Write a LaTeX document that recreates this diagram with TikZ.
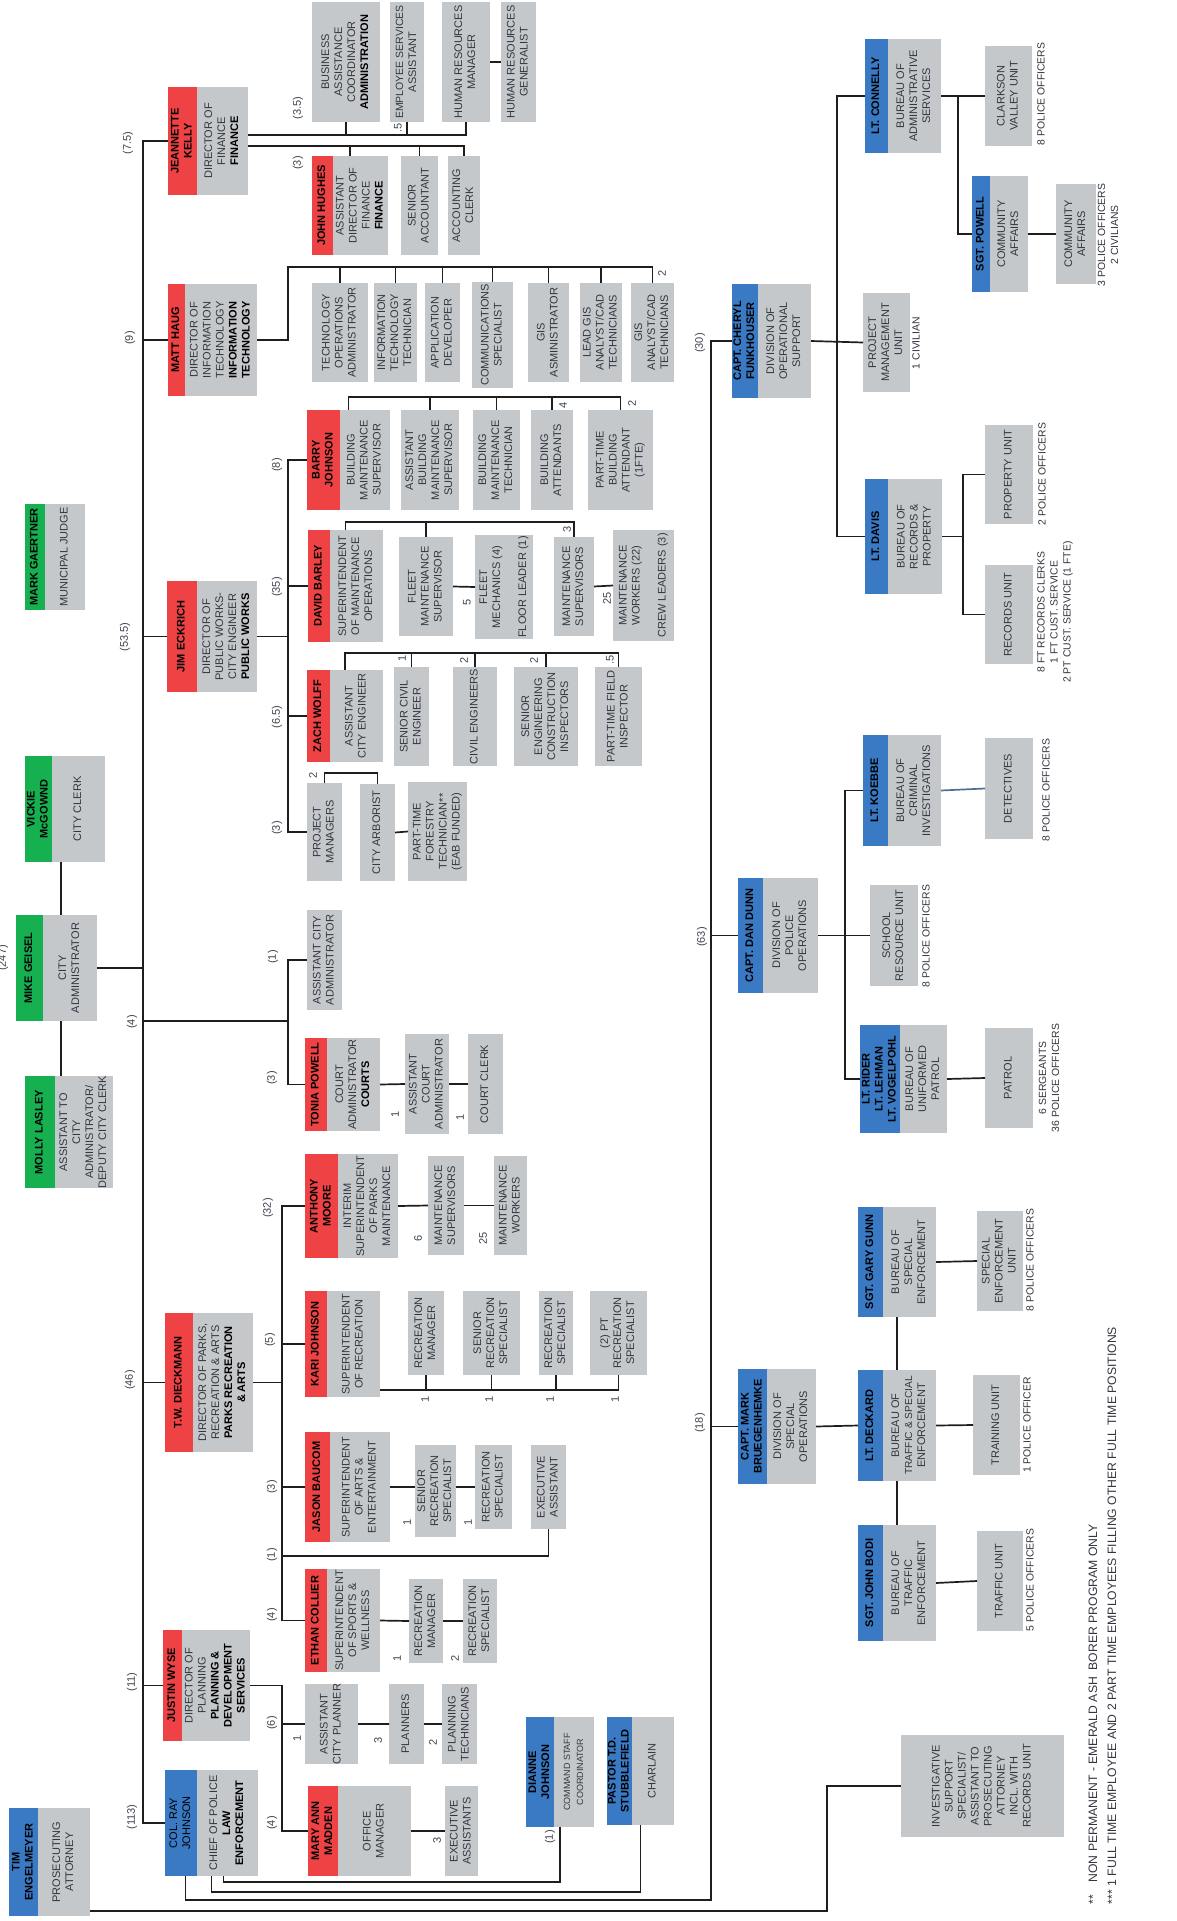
\documentclass[tikz,border=0pt]{standalone}
\usepackage{fontspec}
\setmainfont{Liberation Sans}
\usepackage{graphicx}
\definecolor{cred}{RGB}{238,66,68}
\definecolor{cgreen}{RGB}{22,176,80}
\definecolor{cblue}{RGB}{58,122,196}
\definecolor{cgrey}{RGB}{197,200,203}
\definecolor{ctext}{RGB}{50,54,62}
\definecolor{cline}{RGB}{30,30,30}
\definecolor{cnum}{RGB}{64,68,78}
\definecolor{csteel}{RGB}{80,110,150}
\newcommand\rt[1]{\rotatebox{90}{\begin{tabular}{@{}c@{}}#1\end{tabular}}}
\newcommand\vc[1]{$\vcenter{\hbox{#1}}$}
\newcommand\dept[1]{{\bfseries\color{black}#1}}
\tikzset{
 base/.style={inner sep=0pt, outer sep=0pt, font=\fontsize{11}{13}\selectfont},
 gb/.style={base, fill=cgrey, text=ctext, anchor=north west},
 pb/.style 2 args={gb, path picture={\fill[#1] (path picture bounding box.north west) rectangle ([xshift=#2]path picture bounding box.south west);}},
 ln/.style={draw=cline, line width=1.7pt},
 cnt/.style={base, text=cnum},
 note/.style={base, text=ctext, font=\fontsize{10.4}{13}\selectfont},
 foot/.style={base, text=ctext, font=\fontsize{12.2}{14}\selectfont, anchor=south},
}
\newcommand\person[9]{\node[pb={#7}{#4-#2}, minimum width={#5-#2}, minimum height={#6-#3}] (#1) at (#2,#3) {\makebox[\dimexpr#4pt-#2pt\relax]{\vc{\color{black}\bfseries\rt{#8}}}\makebox[\dimexpr#5pt-#4pt\relax]{\vc{\rt{#9}}}};}
\newcommand\gbox[6]{\node[gb, minimum width={#4-#2}, minimum height={#5-#3}] (#1) at (#2,#3) {\rt{#6}};}
\newcommand\lab[4]{\node[cnt] (#1) at (#2,#3) {\rotatebox{90}{#4}};}
\begin{document}
\begin{tikzpicture}[x=1pt,y=-1pt]
\useasboundingbox (0,0) rectangle (1176,1921);
\fill[white] (0,0) rectangle (1176,1921);
\coordinate (T0) at (143,0);
\coordinate (T1) at (288,0);
\coordinate (T2) at (282,0);
\coordinate (TP) at (711,0);
\coordinate (T3) at (837,0);
\coordinate (T4) at (958,0);
\coordinate (T5) at (963,0);
\coordinate (T6) at (845,0);
\coordinate (itbus) at (0,267);
\coordinate (bbus) at (0,397);
\coordinate (dbus) at (0,522);
\coordinate (wbus) at (0,653);
\coordinate (pbus) at (0,773);
\coordinate (b4) at (143,1021);
\coordinate (e1) at (282,1556);
\coordinate (pbot) at (711,1900);
\coordinate (pb2) at (0,1892);
\coordinate (pb3) at (0,1882);
\coordinate (tb) at (827,1911);
% persons
\person{kelly}{168}{87}{197}{248}{195}{cred}{JEANNETTE\\KELLY}{DIRECTOR OF\\FINANCE\\\dept{FINANCE}}
\person{hughes}{312}{156}{333}{388}{255}{cred}{JOHN HUGHES}{ASSISTANT\\DIRECTOR OF\\FINANCE\\\dept{FINANCE}}
\person{haug}{168}{284}{185}{257}{396}{cred}{MATT HAUG}{DIRECTOR OF\\INFORMATION\\TECHNOLOGY\\\dept{INFORMATION}\\\dept{TECHNOLOGY}}
\person{barry}{307}{410}{340}{390}{510}{cred}{BARRY\\JOHNSON}{BUILDING\\MAINTENANCE\\SUPERVISOR}
\person{eckrich}{167}{581}{197}{257}{692}{cred}{JIM ECKRICH}{DIRECTOR OF\\PUBLIC WORKS-\\CITY ENGINEER\\\dept{PUBLIC WORKS}}
\person{barley}{308}{530}{330}{383}{642}{cred}{DAVID BARLEY}{SUPERINTENDENT\\OF MAINTENANCE\\OPERATIONS}
\person{wolff}{307}{670}{330}{383}{762}{cred}{ZACH WOLFF}{ASSISTANT\\CITY ENGINEER}
\person{gaertner}{25}{504}{45}{85}{610}{cgreen}{MARK GAERTNER}{MUNICIPAL JUDGE}
\person{mcgownd}{25}{756}{52}{105}{862}{cgreen}{VICKIE\\McGOWND}{CITY CLERK}
\person{geisel}{16}{915}{43}{97}{1021}{cgreen}{MIKE GEISEL}{CITY\\ADMINISTRATOR}
\person{lasley}{25}{1076}{55}{113}{1188}{cgreen}{MOLLY LASLEY}{ASSISTANT TO\\CITY\\ADMINISTRATOR/\\DEPUTY CITY CLERK}
\person{powell}{305}{1038}{327}{380}{1131}{cred}{TONIA POWELL}{COURT\\ADMINISTRATOR\\\dept{COURTS}}
\person{moore}{305}{1154}{338}{398}{1258}{cred}{ANTHONY\\MOORE}{INTERIM\\SUPERINTENDENT\\OF PARKS\\MAINTENANCE}
\person{dieckmann}{165}{1313}{193}{253}{1452}{cred}{T.W. DIECKMANN}{DIRECTOR OF PARKS,\\RECREATION \& ARTS\\\dept{PARKS RECREATION}\\\dept{\& ARTS}}
\person{kari}{305}{1291}{327}{380}{1397}{cred}{KARI JOHNSON}{SUPERINTENDENT\\OF RECREATION}
\person{baucom}{305}{1432}{330}{390}{1542}{cred}{JASON BAUCOM}{SUPERINTENDENT\\OF ARTS \&\\ENTERTAINMENT}
\person{collier}{305}{1569}{327}{380}{1672}{cred}{ETHAN COLLIER}{SUPERINTENDENT\\OF SPORTS \&\\WELLNESS}
\person{wyse}{163}{1630}{182}{250}{1741}{cred}{JUSTIN WYSE}{DIRECTOR OF\\PLANNING\\\dept{PLANNING \&}\\\dept{DEVELOPMENT}\\\dept{SERVICES}}
\person{madden}{308}{1786}{338}{411}{1876}{cred}{MARY ANN\\MADDEN}{OFFICE\\MANAGER}
\person{ray}{165}{1770}{197}{258}{1876}{cblue}{{\mdseries COL. RAY}\\{\mdseries JOHNSON}}{CHIEF OF POLICE\\\dept{LAW}\\\dept{ENFORCEMENT}}
\person{engelmeyer}{9}{1808}{38}{90}{1916}{cblue}{TIM\\ENGELMEYER}{PROSECUTING\\ATTORNEY}
\person{dianne}{526}{1717}{554}{594}{1827}{cblue}{DIANNE\\JOHNSON}{\small COMMAND STAFF\\\small COORDINATOR}
\person{pastor}{607}{1717}{632}{674}{1825}{cblue}{PASTOR T.D.\\STUBBLEFIELD}{CHARLAIN}
\person{funk}{732}{284}{758}{811}{398}{cblue}{CAPT. CHERYL\\FUNKHOUSER}{DIVISION OF\\OPERATIONAL\\SUPPORT}
\person{connelly}{865}{39}{888}{941}{153}{cblue}{LT. CONNELLY}{BUREAU OF\\ADMINISTRATIVE\\SERVICES}
\person{spowell}{972}{176}{990}{1028}{292}{cblue}{SGT. POWELL}{COMMUNITY\\AFFAIRS}
\person{davis}{865}{479}{888}{942}{594}{cblue}{LT. DAVIS}{BUREAU OF\\RECORDS \&\\PROPERTY}
\person{dunn}{738}{878}{763}{818}{993}{cblue}{CAPT. DAN DUNN}{DIVISION OF\\POLICE\\OPERATIONS}
\person{koebbe}{863}{735}{888}{941}{846}{cblue}{LT. KOEBBE}{BUREAU OF\\CRIMINAL\\INVESTIGATIONS}
\person{rider}{860}{1025}{900}{947}{1133}{cblue}{LT. RIDER\\LT. LEHMAN\\LT. VOGELPOHL}{BUREAU OF\\UNIFORMED\\PATROL}
\person{brueg}{738}{1369}{767}{816}{1484}{cblue}{CAPT. MARK\\BRUEGENHEMKE}{DIVISION OF\\SPECIAL\\OPERATIONS}
\person{gunn}{858}{1207}{883}{936}{1317}{cblue}{SGT. GARY GUNN}{BUREAU OF\\SPECIAL\\ENFORCEMENT}
\person{deckard}{858}{1370}{883}{936}{1481}{cblue}{LT. DECKARD}{BUREAU OF\\{\fontsize{10.2}{13}\selectfont TRAFFIC \& SPECIAL}\\ENFORCEMENT}
\person{bodi}{858}{1525}{883}{936}{1641}{cblue}{SGT. JOHN BODI}{BUREAU OF\\TRAFFIC\\ENFORCEMENT}
% plain boxes
\gbox{bac}{312}{2}{380}{122}{BUSINESS\\ASSISTANCE\\COORDINATOR\\\dept{ADMINISTRATION}}
\gbox{esa}{390}{2}{424}{122}{{\fontsize{10.5}{13}\selectfont EMPLOYEE SERVICES}\\ASSISTANT}
\gbox{hrm}{442}{2}{490}{122}{HUMAN RESOURCES\\MANAGER}
\gbox{hrg}{501}{2}{536}{122}{HUMAN RESOURCES\\GENERALIST}
\gbox{sacc}{401}{156}{438}{255}{SENIOR\\ACCOUNTANT}
\gbox{aclerk}{448}{156}{480}{255}{ACCOUNTING\\CLERK}
\gbox{itops}{312}{283}{368}{382}{TECHNOLOGY\\OPERATIONS\\ADMINISTRATOR}
\gbox{ittech}{374}{283}{417}{382}{INFORMATION\\TECHNOLOGY\\TECHNICIAN}
\gbox{appdev}{425}{283}{460}{382}{APPLICATION\\DEVELOPER}
\gbox{comm}{472}{282}{513}{388}{COMMUNICATIONS\\SPECIALIST}
\gbox{gisadm}{528}{283}{569}{382}{GIS\\ASMINISTRATOR}
\gbox{leadgis}{580}{283}{622}{382}{LEAD GIS\\ANALYST/CAD\\TECHNICIANS}
\gbox{gisan}{631}{283}{674}{382}{GIS\\ANALYST/CAD\\TECHNICIANS}
\gbox{abms}{401}{410}{459}{510}{ASSISTANT\\BUILDING\\MAINTENANCE\\SUPERVISOR}
\gbox{bmt}{473}{410}{520}{510}{BUILDING\\MAINTENANCE\\TECHNICIAN}
\gbox{batt}{531}{410}{573}{510}{BUILDING\\ATTENDANTS}
\gbox{ptba}{588}{410}{653}{510}{PART-TIME\\BUILDING\\ATTENDANT\\(1FTE)}
\gbox{fms}{399}{537}{453}{636}{FLEET\\MAINTENANCE\\SUPERVISOR}
\gbox{fmech}{475}{535}{533}{639}{FLEET\\MECHANICS (4)\\[13pt]FLOOR LEADER (1)}
\gbox{msup}{554}{537}{594}{636}{MAINTENANCE\\SUPERVISORS}
\gbox{mwork}{613}{530}{674}{641}{MAINTENANCE\\WORKERS (22)\\[13pt]CREW LEADERS (3)}
\gbox{sce}{394}{667}{429}{766}{SENIOR CIVIL\\ENGINEER}
\gbox{ce}{453}{667}{497}{766}{CIVIL ENGINEERS}
\gbox{seci}{514}{667}{578}{766}{SENIOR\\ENGINEERING\\CONSTRUCTION\\INSPECTORS}
\gbox{ptfi}{595}{667}{642}{766}{PART-TIME FIELD\\INSPECTOR}
\gbox{pm}{307}{783}{342}{881}{PROJECT\\MANAGERS}
\gbox{arb}{360}{784}{395}{881}{CITY ARBORIST}
\gbox{forest}{408}{782}{467}{881}{PART-TIME\\FORESTRY\\TECHNICIAN**\\(EAB FUNDED)}
\gbox{aca}{307}{910}{342}{1010}{ASSISTANT CITY\\ADMINISTRATOR}
\gbox{aca2}{405}{1034}{449}{1134}{ASSISTANT\\COURT\\ADMINISTRATOR}
\gbox{cclerk}{468}{1034}{503}{1134}{COURT CLERK}
\gbox{pmsup}{428}{1156}{464}{1255}{MAINTENANCE\\SUPERVISORS}
\gbox{pmwork}{494}{1156}{527}{1255}{MAINTENANCE\\WORKERS}
\gbox{rm1}{408}{1291}{444}{1375}{RECREATION\\MANAGER}
\gbox{srs1}{463}{1291}{520}{1375}{SENIOR\\RECREATION\\SPECIALIST}
\gbox{rs1}{539}{1291}{573}{1375}{RECREATION\\SPECIALIST}
\gbox{ptrs}{590}{1291}{647}{1375}{(2) PT\\RECREATION\\SPECIALIST}
\gbox{srs2}{415}{1445}{456}{1537}{SENIOR\\RECREATION\\SPECIALIST}
\gbox{rs2}{475}{1445}{512}{1529}{RECREATION\\SPECIALIST}
\gbox{exa}{531}{1445}{566}{1529}{EXECUTIVE\\ASSISTANT}
\gbox{rm2}{409}{1579}{443}{1663}{RECREATION\\MANAGER}
\gbox{rs3}{463}{1579}{497}{1663}{RECREATION\\SPECIALIST}
\gbox{acp}{305}{1684}{358}{1764}{ASSISTANT\\CITY PLANNER}
\gbox{planners}{389}{1684}{424}{1764}{PLANNERS}
\gbox{ptech}{442}{1684}{477}{1764}{PLANNING\\TECHNICIANS}
\gbox{exas}{445}{1786}{478}{1876}{EXECUTIVE\\ASSISTANTS}
\gbox{invest}{901}{1735}{1064}{1837}{INVESTIGATIVE\\SUPPORT\\SPECIALIST/\\ASSISTANT TO\\PROSECUTING\\ATTORNEY\\INCL. WITH\\RECORDS UNIT}
\gbox{cvu}{985}{46}{1032}{146}{CLARKSON\\VALLEY UNIT}
\gbox{ca}{1056}{184}{1096}{284}{COMMUNITY\\AFFAIRS}
\gbox{pmu}{863}{293}{910}{392}{PROJECT\\MANAGEMENT\\UNIT}
\gbox{prop}{985}{425}{1033}{524}{PROPERTY UNIT}
\gbox{rec}{985}{565}{1033}{664}{RECORDS UNIT}
\gbox{det}{985}{738}{1033}{839}{DETECTIVES}
\gbox{sru}{870}{885}{918}{986}{SCHOOL\\RESOURCE UNIT}
\gbox{patrol}{985}{1028}{1033}{1128}{PATROL}
\gbox{seu}{977}{1211}{1023}{1311}{SPECIAL\\ENFORCEMENT\\UNIT}
\gbox{train}{973}{1375}{1020}{1475}{TRAINING UNIT}
\gbox{traffic}{977}{1531}{1023}{1631}{TRAFFIC UNIT}
% connectors: main trunk
\draw[ln] (kelly.west) -- (kelly.west -| T0) -- (ray.west -| T0) -- (ray.west);
\draw[ln] (haug.west) -- (haug.west -| T0);
\draw[ln] (eckrich.west) -- (eckrich.west -| T0);
\draw[ln] (geisel.east) -- (geisel.east -| T0);
\draw[ln] (b4) -- (b4 -| T1);
\draw[ln] (dieckmann.west) -- (dieckmann.west -| T0);
\draw[ln] (wyse.west) -- (wyse.west -| T0);
% finance
\draw[ln] ([yshift=6]kelly.east) -| (hrm.south);
\draw[ln] (bac.south) -- ++(0,13);
\draw[ln] (esa.south) -- ++(0,13);
\draw[ln] (hrm.east) -- (hrg.west);
\draw[ln] ([yshift=-5]kelly.east) -| (aclerk.north);
\draw[ln] (hughes.north) -- ++(0,-10);
\draw[ln] (sacc.north) -- ++(0,-10);
% IT
\draw[ln] (haug.east) -- (haug.east -| T1) -- (T1 |- itbus) -| (gisan.north);
\foreach \n in {itops,ittech,appdev,comm,gisadm,leadgis} \draw[ln] (\n.north) -- (\n.north |- itbus);
% public works
\draw[ln] (barry.west) -- (barry.west -| T1) -- (pm.west -| T1) -- (pm.west);
\draw[ln] (eckrich.east) -- (eckrich.east -| T1);
\draw[ln] (barley.west) -- (barley.west -| T1);
\draw[ln] (wolff.west) -- (wolff.west -| T1);
\draw[ln] (barry.north) -- (barry.north |- bbus) -| (ptba.north);
\foreach \n in {abms,bmt,batt} \draw[ln] (\n.north) -- (\n.north |- bbus);
\draw[ln] (barley.north) -- (barley.north |- dbus) -| (msup.north);
\draw[ln] (fms.north) -- (fms.north |- dbus);
\draw[ln] (fms.east) -- (fmech.west);
\draw[ln] (msup.east) -- (mwork.west);
\draw[ln] (wolff.north) -- (wolff.north |- wbus) -| (ptfi.north);
\foreach \n in {sce,ce,seci} \draw[ln] (\n.north) -- (\n.north |- wbus);
\draw[ln] (pm.north) -- (pm.north |- pbus) -| (arb.north);
\draw[ln] (arb.east) -- (forest.west);
% courts
\draw[ln] (aca.west) -- (aca.west -| T1) -- (powell.west -| T1) -- (powell.west);
\draw[ln] (powell.east) -- (aca2.west);
\draw[ln] (aca2.east) -- (cclerk.west);
% city administrator group
\coordinate (m1) at ([xshift=-4]mcgownd.south);
\coordinate (m2) at ([xshift=4.5]geisel.south);
\draw[ln] (m1) -- (m1 |- geisel.north);
\draw[ln] (m2) -- (m2 |- lasley.north);
% parks
\draw[ln] (moore.west) -- (moore.west -| T2) -- (collier.west -| T2) -- (collier.west);
\draw[ln] (dieckmann.east) -- (dieckmann.east -| T2);
\draw[ln] (kari.west) -- (kari.west -| T2);
\draw[ln] (baucom.west) -- (baucom.west -| T2);
\draw[ln] (e1) -| (exa.south);
\draw[ln] (moore.east) -- (pmsup.west);
\draw[ln] (pmsup.east) -- (pmwork.west);
\coordinate (kb) at ([yshift=7]kari.south east);
\draw[ln] (kb) -| (ptrs.south);
\foreach \n in {rm1,srs1,rs1} \draw[ln] (\n.south) -- (\n.south |- kb);
\draw[ln] (baucom.east) -- (baucom.east -| srs2.west);
\draw[ln] (srs2.east |- rs2.west) -- (rs2.west);
\draw[ln] (collier.east) -- (rm2.west);
\draw[ln] (rm2.east) -- (rs3.west);
% planning
\draw[ln] (wyse.east) -- (wyse.east -| T2) -- (madden.west -| T2) -- (madden.west);
\draw[ln] (acp.west) -- (acp.west -| T2);
\draw[ln] (acp.east) -- (planners.west);
\draw[ln] (planners.east) -- (ptech.west);
\draw[ln] (madden.east) -- (exas.west);
% police
\coordinate (r1) at ([xshift=-26]ray.south);
\coordinate (r3) at ([xshift=12]ray.south);
\draw[ln] (r1) |- (pbot) -- (funk.west -| TP) -- (funk.west);
\draw[ln] (ray.south) -- (ray.south |- pb2) -| (pastor.south);
\draw[ln] (r3) -- (r3 |- pb3) -| (dianne.south);
\draw[ln] (dunn.west) -- (dunn.west -| TP);
\draw[ln] (brueg.west) -- (brueg.west -| TP);
\draw[ln] ([yshift=5]engelmeyer.south east) -- (tb) |- (invest.west);
\draw[ln] (funk.east) -- (pmu.west);
\draw[ln] (connelly.west) -- (connelly.west -| T3) -- (davis.west -| T3) -- (davis.west);
\draw[ln] (connelly.east) -- (cvu.west);
\draw[ln] (connelly.east -| T4) |- (spowell.west);
\draw[ln] (spowell.east) -- (ca.west);
\draw[ln] (davis.east) -- (davis.east -| T5);
\draw[ln] (prop.west) -- (prop.west -| T5) -- (rec.west -| T5) -- (rec.west);
\draw[ln] (dunn.east) -- (sru.west);
\draw[ln] (koebbe.west) -- (koebbe.west -| T6) -- (rider.west -| T6) -- (rider.west);
\draw[ln, draw=csteel] (koebbe.east) -- (det.west);
\draw[ln] (rider.east) -- (patrol.west);
\draw[ln] (brueg.east) -- (deckard.west);
\draw[ln] (gunn.south) -- (deckard.north);
\draw[ln] (deckard.south) -- (bodi.north);
\draw[ln] (gunn.east) -- (seu.west);
\draw[ln] (deckard.east) -- (train.west);
\draw[ln] (bodi.east) -- (traffic.west);
% count labels
\lab{l1}{128}{143}{(7.5)}
\lab{l2}{130}{338}{(9)}
\lab{l3}{125}{637}{(53.5)}
\lab{l4}{3}{958}{(247)}
\lab{l5}{132}{1022}{(4)}
\lab{l6}{130}{1380}{(46)}
\lab{l7}{132}{1682}{(11)}
\lab{l8}{132}{1817}{(113)}
\lab{l9}{298}{108}{(3.5)}
\lab{l10}{398}{128}{.5}
\lab{l11}{298}{163}{(3)}
\lab{l12}{662}{273}{2}
\lab{l13}{277}{465}{(8)}
\lab{l14}{563}{405}{4}
\lab{l15}{632}{403}{2}
\lab{l16}{277}{587}{(35)}
\lab{l17}{567}{529}{3}
\lab{l18}{467}{602}{5}
\lab{l19}{607}{598}{25}
\lab{l20}{277}{717}{(6.5)}
\lab{l21}{402}{658}{1}
\lab{l22}{464}{660}{2}
\lab{l23}{534}{660}{2}
\lab{l24}{610}{660}{.5}
\lab{l25}{277}{828}{(3)}
\lab{l26}{313}{775}{2}
\lab{l27}{273}{957}{(1)}
\lab{l28}{272}{1078}{(3)}
\lab{l29}{395}{1114}{1}
\lab{l30}{460}{1117}{1}
\lab{l31}{268}{1208}{(32)}
\lab{l32}{418}{1238}{6}
\lab{l33}{483}{1238}{25}
\lab{l34}{270}{1340}{(5)}
\lab{l35}{425}{1399}{1}
\lab{l36}{489}{1399}{1}
\lab{l37}{550}{1399}{1}
\lab{l38}{615}{1399}{1}
\lab{l39}{272}{1487}{(3)}
\lab{l40}{407}{1522}{1}
\lab{l41}{468}{1522}{1}
\lab{l42}{272}{1555}{(1)}
\lab{l43}{272}{1615}{(4)}
\lab{l44}{397}{1658}{1}
\lab{l45}{455}{1658}{2}
\lab{l46}{272}{1723}{(6)}
\lab{l47}{297}{1738}{1}
\lab{l48}{378}{1740}{3}
\lab{l49}{433}{1742}{2}
\lab{l50}{272}{1823}{(4)}
\lab{l51}{437}{1840}{3}
\lab{l52}{550}{1837}{(1)}
\lab{l53}{700}{343}{(30)}
\lab{l54}{702}{937}{(63)}
\lab{l55}{700}{1423}{(18)}
% staffing notes
\node[note] (s1) at (1042,94) {\rt{8 POLICE OFFICERS}};
\node[note] (s2) at (1109,235) {\rt{3 POLICE OFFICERS\\2 CIVILIANS}};
\node[note] (s3) at (917,343) {\rt{1 CIVILIAN}};
\node[note] (s4) at (1043,474) {\rt{2 POLICE OFFICERS}};
\node[note] (s5) at (1055,612) {\rt{8 FT RECORDS CLERKS\\1 FT CUST. SERVICE\\2 PT CUST. SERVICE (1 FTE)}};
\node[note] (s6) at (1047,790) {\rt{8 POLICE OFFICERS}};
\node[note] (s7) at (927,936) {\rt{8 POLICE OFFICERS}};
\node[note] (s8) at (1050,1078) {\rt{6 SERGEANTS\\36 POLICE OFFICERS}};
\node[note] (s9) at (1031,1260) {\rt{8 POLICE OFFICERS}};
\node[note] (s10) at (1028,1425) {\rt{1 POLICE OFFICER}};
\node[note] (s11) at (1031,1580) {\rt{5 POLICE OFFICERS}};
% footnotes
\node[foot] (f1) at (1093,1904) {\rotatebox{90}{**\quad NON PERMANENT - EMERALD ASH\ \ BORER PROGRAM ONLY}};
\node[foot] (f2) at (1112,1904) {\rotatebox{90}{***\ 1 FULL TIME EMPLOYEE AND 2 PART TIME EMPLOYEES FILLING OTHER FULL TIME POSITIONS}};
\end{tikzpicture}
\end{document}
